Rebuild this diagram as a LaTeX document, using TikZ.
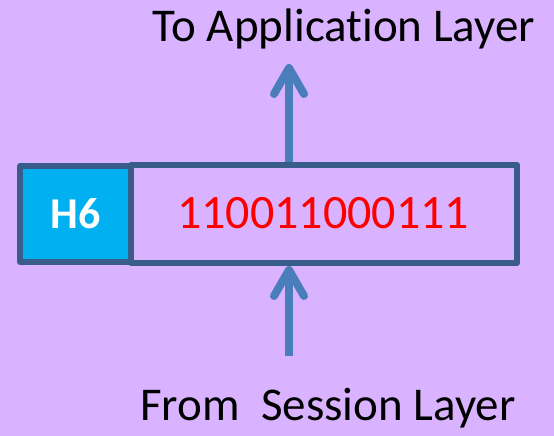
\documentclass[tikz,border=0pt]{standalone}
\usepackage{fontspec}
\setmainfont{Carlito}[Ligatures=NoCommon]
\usetikzlibrary{arrows.meta}
\definecolor{bgc}{RGB}{217,179,255}
\definecolor{edgec}{RGB}{56,93,138}
\definecolor{hdrc}{RGB}{0,176,240}
\definecolor{arrc}{RGB}{74,126,187}
\tikzset{
  boxc/.style={draw=edgec, line width=6pt, line join=round, inner sep=0pt, anchor=north west},
  flow/.style={draw=arrc, line width=8pt, -{Straight Barb[length=26pt,width=30pt,line cap=round,line join=round]}},
  lbl/.style={font=\fontsize{47}{47}\selectfont, text=black, anchor=base}
}
\begin{document}
\begin{tikzpicture}[x=1pt,y=-1pt]
\fill[bgc] (0,0) rectangle (554,436);
\useasboundingbox (0,0) rectangle (554,436);
\node[boxc, fill=hdrc, minimum width=111pt, minimum height=96pt] (hdr) at (17,163) {};
\node[boxc, minimum width=386pt, minimum height=98pt] (data) at (128,162) {};
\node[font=\bfseries\fontsize{44}{44}\selectfont, text=white] (h6) at (hdr.center) {H6};
\node[font=\fontsize{48}{48}\selectfont, text=red] (bits) at (323,213) {110011000111};
\coordinate (topend) at (289,64);
\coordinate (botstart) at (289,356);
\draw[flow] (data.north -| topend) -- (topend);
\draw[flow] (botstart) -- (data.south -| botstart);
\node[lbl] (app) at (344,42) {To Application Layer};
\node[lbl] (ses) at (328,420) {From\ \ Session Layer};
\end{tikzpicture}
\end{document}
